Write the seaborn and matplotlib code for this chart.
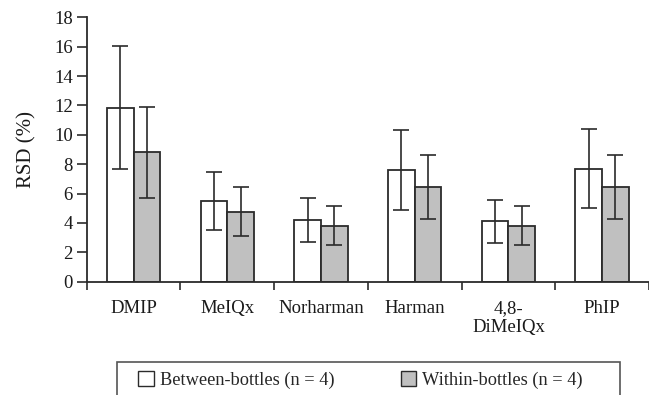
import numpy as np
import pandas as pd
import matplotlib
matplotlib.use("Agg")
import matplotlib.pyplot as plt
from matplotlib.patches import Rectangle, Patch
from matplotlib.ticker import FixedLocator
import seaborn as sns

categories = ["DMIP", "MeIQx", "Norharman", "Harman", "4,8-\nDiMeIQx", "PhIP"]
series_names = ["Between-bottles (n = 4)", "Within-bottles (n = 4)"]
between_vals = [11.85, 5.5, 4.2, 7.6, 4.1, 7.7]
between_err = [4.2, 1.95, 1.47, 2.7, 1.47, 2.7]
within_vals = [8.8, 4.75, 3.8, 6.45, 3.8, 6.45]
within_err = [3.1, 1.67, 1.33, 2.2, 1.33, 2.2]
yticks = list(range(0, 19, 2))

df = pd.DataFrame({
    "cat": categories * 2,
    "series": [series_names[0]] * 6 + [series_names[1]] * 6,
    "val": between_vals + within_vals,
    "err": between_err + within_err,
})

sns.set_theme(style="white")
plt.rcParams["font.family"] = ["Liberation Serif", "DejaVu Serif"]

fig = plt.figure(figsize=(6.49, 3.95), dpi=100)
ax = fig.add_axes([86.7 / 649, 1 - 281.7 / 395, 1 - 86.7 / 649, (281.7 - 17.3) / 395])

edge = "#2b2b2b"
palette = {series_names[0]: "white", series_names[1]: "#c0c0c0"}
sns.barplot(data=df, x="cat", y="val", hue="series", order=categories,
            hue_order=series_names, palette=palette, width=0.57,
            edgecolor=edge, linewidth=1.3, errorbar=None, legend=False,
            saturation=1, ax=ax)

# error bars positioned from the bar patches that seaborn drew
for container, errs, vals in zip(ax.containers, [between_err, within_err],
                                 [between_vals, within_vals]):
    xs = [p.get_x() + p.get_width() / 2 for p in container.patches]
    ax.errorbar(xs, vals, yerr=errs, fmt="none", ecolor=edge,
                elinewidth=1.2, capsize=5.5, capthick=1.2, zorder=5)

ax.set_ylim(0, 18)
ax.set_xlim(-0.5, 5.5)
ax.set_yticks(yticks)
ax.set_yticklabels([str(t) for t in yticks])
ax.set_xticks(range(len(categories)))
ax.set_xticklabels(categories, linespacing=1.15)
ax.xaxis.set_minor_locator(FixedLocator(np.arange(-0.5, 6.0, 1.0)))
ax.tick_params(axis="x", which="major", length=0, pad=13, labelsize=13.5, colors="#1a1a1a")
ax.tick_params(axis="x", which="minor", length=6, width=1.2, color=edge, direction="out", bottom=True)
ax.tick_params(axis="y", which="major", length=7, width=1.2, color=edge, direction="out",
               left=True, pad=3, labelsize=13.5, labelcolor="#1a1a1a")
ax.set_xlabel("")
ax.set_ylabel("RSD (%)", fontsize=15, color="#1a1a1a", labelpad=13)

for s in ["top", "right"]:
    ax.spines[s].set_visible(False)
for s in ["left", "bottom"]:
    ax.spines[s].set_color(edge)
    ax.spines[s].set_linewidth(1.3)
ax.grid(False)

handles = [Patch(facecolor="white", edgecolor=edge, linewidth=1.0),
           Patch(facecolor="#c0c0c0", edgecolor=edge, linewidth=1.0)]
fig.legend(handles, series_names, loc="center left",
           bbox_to_anchor=(138 / 649, 1 - 380 / 395), ncol=2, frameon=False,
           fontsize=13.2, handlelength=0.85, handleheight=0.85,
           handletextpad=0.35, columnspacing=3.6, borderpad=0, borderaxespad=0)

fig.add_artist(Rectangle((116.7 / 649, -0.02), (620 - 116.7) / 649,
                         1 - 361.7 / 395 + 0.02, transform=fig.transFigure,
                         fill=False, edgecolor="#555555", linewidth=1.2))

fig.savefig("out.png", dpi=100)
